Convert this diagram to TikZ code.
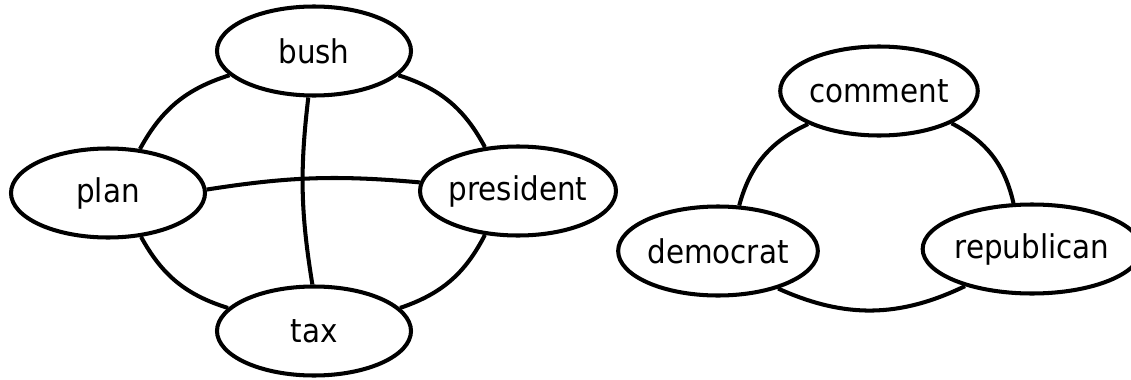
\documentclass[tikz,border=0pt]{standalone}
\usepackage{fontspec}
\setmainfont{DejaVu Sans Condensed}
\usepackage{tikz}
\usetikzlibrary{shapes.geometric}

\tikzset{
    word/.style={ellipse, draw, line width=2.3pt, minimum width=3.88cm,
        minimum height=1.78cm, inner sep=0pt, font=\fontsize{18.6}{22}\selectfont},
    link/.style={line width=2.3pt}
}

\begin{document}
\begin{tikzpicture}
\useasboundingbox (0,0) rectangle (22.62,7.58);

% ---- left graph ----
\node[word] (bush) at (6.28,6.56) {bush};
\node[word] (plan) at (2.16,3.72) {plan};
\node[word] (president) at (10.36,3.76) {president};
\node[word] (tax) at (6.28,0.96) {tax};

\draw[link] (bush.196) to[bend right=22] (plan.54);
\draw[link] (bush.344) to[bend left=22] (president.127);
\draw[link] (plan.307) to[bend right=22] (tax.165);
\draw[link] (president.233) to[bend left=22] (tax.15);
\draw[link] (plan.2) to[bend left=7] (president.175);
\draw[link] (bush.263) to[bend right=8] (tax.92);

% ---- right graph ----
\node[word] (comment) at (17.58,5.76) {comment};
\node[word] (democrat) at (14.36,2.56) {democrat};
\node[word] (republican) at (20.64,2.6) {republican};

\draw[link] (comment.205) to[bend right=25] (democrat.65);
\draw[link] (comment.336) to[bend left=25] (republican.112);
\draw[link] (democrat.328) to[bend right=25] (republican.209);

\end{tikzpicture}
\end{document}
